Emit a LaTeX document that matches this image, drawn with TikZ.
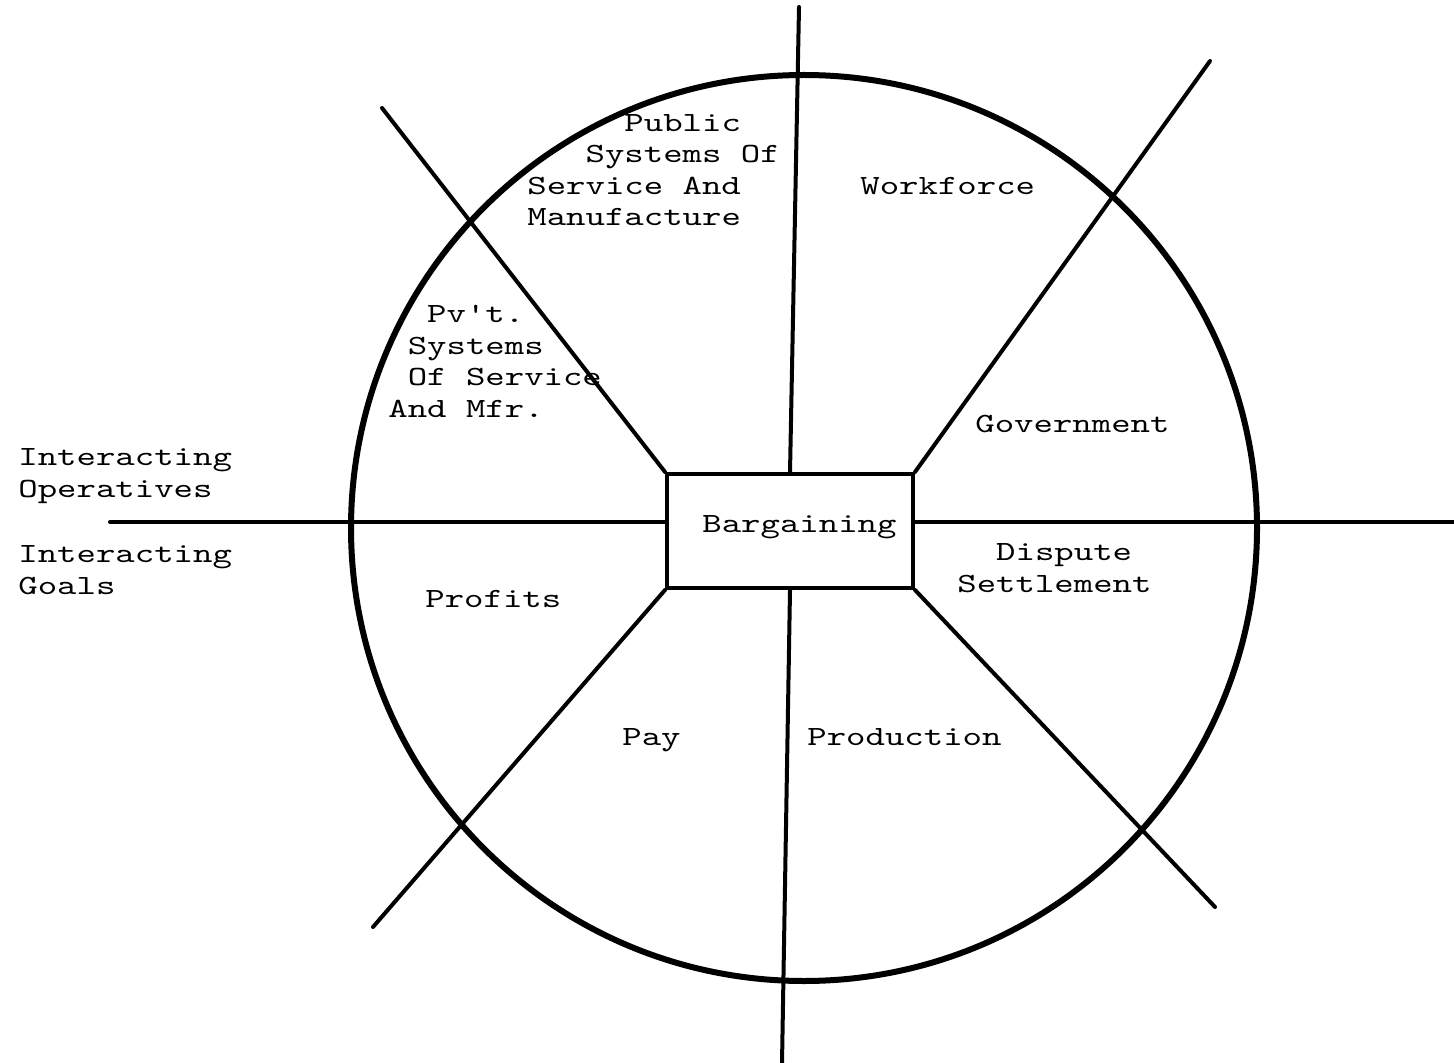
\documentclass[tikz,border=0pt]{standalone}
\usepackage{fontspec}
\newfontfamily\typewr{lmmono10-regular.otf}[FakeStretch=1.33,Ligatures=TeXOff]

\begin{document}
\begin{tikzpicture}[x=0.5pt,y=-0.5pt,
  every node/.style={font=\typewr\fontsize{13.9}{15.75}\selectfont,inner sep=0pt},
  lbl/.style={anchor=base west,align=left},
  bx/.style={draw,line width=2pt,minimum width=123pt,minimum height=57pt},
  ln/.style={line width=2pt,line cap=round},
  rim/.style={line width=3pt}
]
\useasboundingbox (0,0) rectangle (1454,1063);

% wheel and hub
\coordinate (mid) at (804,528);
\draw[rim] (mid) circle[radius=226.5pt];
\node[bx] (bargain) at (790,531) {};

% free ends of the spokes
\coordinate (vtop) at (799,7);
\coordinate (vbot) at (782,1063);
\coordinate (hleft) at (110,522);
\coordinate (hright) at (1454,522);
\coordinate (nwend) at (382,108);
\coordinate (neend) at (1210,61);
\coordinate (swend) at (373,927);
\coordinate (seend) at (1215,907);

\draw[ln] (vtop)--(bargain.north);
\draw[ln] (bargain.south)--(vbot);
\draw[ln] (hleft)--(hleft -| bargain.west);
\draw[ln] (hright -| bargain.east)--(hright);
\draw[ln] (nwend)--(bargain.north west);
\draw[ln] (neend)--(bargain.north east);
\draw[ln] (bargain.south west)--(swend);
\draw[ln] (bargain.south east)--(seend);

% sector labels (multi-line ones sit on their last baseline)
\node[lbl] (pubsys) at (527,226) {\hphantom{00000}Public\\\hphantom{000}Systems Of\\Service And\\Manufacture};
\node[lbl] (workforce) at (860,195) {Workforce};
\node[lbl] (pvtsys) at (388,417) {\hphantom{00}Pv't.\\\hphantom{0}Systems\\\hphantom{0}Of Service\\And Mfr.};
\node[lbl] (govt) at (975,432) {Government};
\node[lbl] (operatives) at (18,497) {Interacting\\Operatives};
\node[lbl] (goals) at (18,594) {Interacting\\Goals};
\node[lbl] (bargtxt) at (702,532) {Bargaining};
\node[lbl] (dispute) at (957,592) {\hphantom{00}Dispute\\Settlement};
\node[lbl] (profits) at (425,607) {Profits};
\node[lbl] (pay) at (622,745) {Pay};
\node[lbl] (production) at (807,745) {Production};
\end{tikzpicture}
\end{document}
